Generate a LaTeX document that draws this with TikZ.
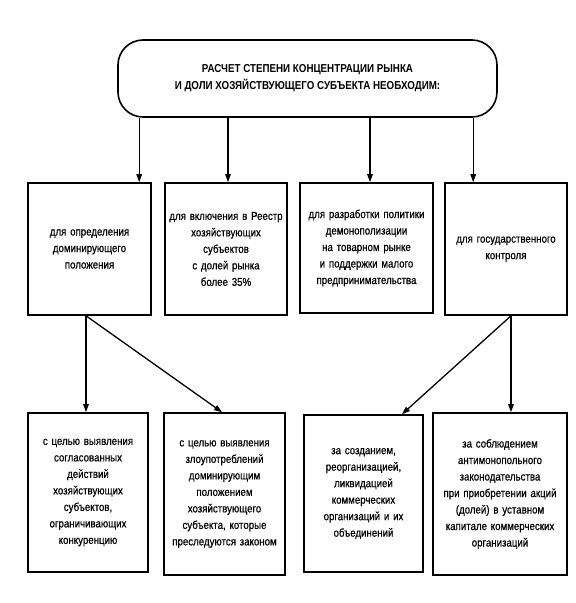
\documentclass[tikz,border=0pt]{standalone}
\usepackage{fontspec}
\setmainfont{Liberation Sans}[FakeStretch=0.85, UprightFeatures={FakeBold=0.6}]
\usetikzlibrary{arrows.meta}
\tikzset{
  box/.style={draw, line width=1.6pt, rectangle, inner sep=2pt, align=center, font=\fontsize{11.4}{16.5}\selectfont},
  arr/.style={line width=1.3pt, -{Triangle[length=8pt,width=5.5pt]}},
}
\begin{document}
\begin{tikzpicture}[x=1pt,y=-1pt]
\useasboundingbox[fill=white] (0,0) rectangle (576,603);
\node[box, rounded corners=25pt, minimum width=379pt, minimum height=77pt, font=\bfseries\fontsize{11.5}{17}\selectfont] (top) at (307.5,78.5)
  {РАСЧЕТ СТЕПЕНИ КОНЦЕНТРАЦИИ РЫНКА\\И ДОЛИ ХОЗЯЙСТВУЮЩЕГО СУБЪЕКТА НЕОБХОДИМ:};
\node[box, minimum width=123pt, minimum height=132pt, text width=119pt] (m1) at (89.5,249)
  {для определения\\доминирующего\\положения};
\node[box, minimum width=122pt, minimum height=132pt, text width=118pt] (m2) at (226,249)
  {для включения в Реестр\\хозяйствующих\\субъектов\\с долей рынка\\более 35\%};
\node[box, minimum width=133pt, minimum height=130pt, text width=129pt] (m3) at (366.5,248)
  {для разработки политики\\демонополизации\\на товарном рынке\\и поддержки малого\\предпринимательства};
\node[box, minimum width=122pt, minimum height=132pt, text width=118pt] (m4) at (506,249)
  {для государственного\\контроля};
\node[box, minimum width=120pt, minimum height=159pt, text width=116pt] (b1) at (88,492.5)
  {с целью выявления\\согласованных\\действий\\хозяйствующих\\субъектов,\\ограничивающих\\конкуренцию};
\node[box, minimum width=121pt, minimum height=162pt, text width=117pt] (b2) at (224.5,494)
  {с целью выявления\\злоупотреблений\\доминирующим\\положением\\хозяйствующего\\субъекта, которые\\преследуются законом};
\node[box, minimum width=119pt, minimum height=157pt, text width=115pt] (b3) at (363.5,493.5)
  {за созданием,\\реорганизацией,\\ликвидацией\\коммерческих\\организаций и их\\объединений};
\node[box, minimum width=134pt, minimum height=162pt, text width=130pt] (b4) at (500,494)
  {за соблюдением\\антимонопольного\\законодательства\\при приобретении акций\\(долей) в уставном\\капитале коммерческих\\организаций};
% arrow anchor points
\coordinate (a1) at ([xshift=112pt]m1.north west);
\coordinate (a2) at ([xshift=2pt]m2.north);
\coordinate (a3) at ([xshift=3.5pt]m3.north);
\coordinate (a4) at ([xshift=29pt]m4.north west);
\draw[arr] (a1 |- top.south) -- (a1);
\draw[arr] (a2 |- top.south) -- (a2);
\draw[arr] (a3 |- top.south) -- (a3);
\draw[arr] (a4 |- top.south) -- (a4);
\coordinate (s1) at ([xshift=-3.5pt]m1.south);
\coordinate (t1) at ([xshift=-2pt]b1.north);
\coordinate (t2) at ([xshift=-2.5pt]b2.north);
\coordinate (s4) at ([xshift=5pt]m4.south);
\coordinate (t3) at ([xshift=38.5pt]b3.north);
\coordinate (t4) at ([xshift=11pt]b4.north);
\draw[arr] (s1) -- (s1 |- t1);
\draw[arr] (s1) -- (t2);
\draw[arr] (s4) -- (t3);
\draw[arr] (s4) -- (s4 |- t4);
\end{tikzpicture}
\end{document}
